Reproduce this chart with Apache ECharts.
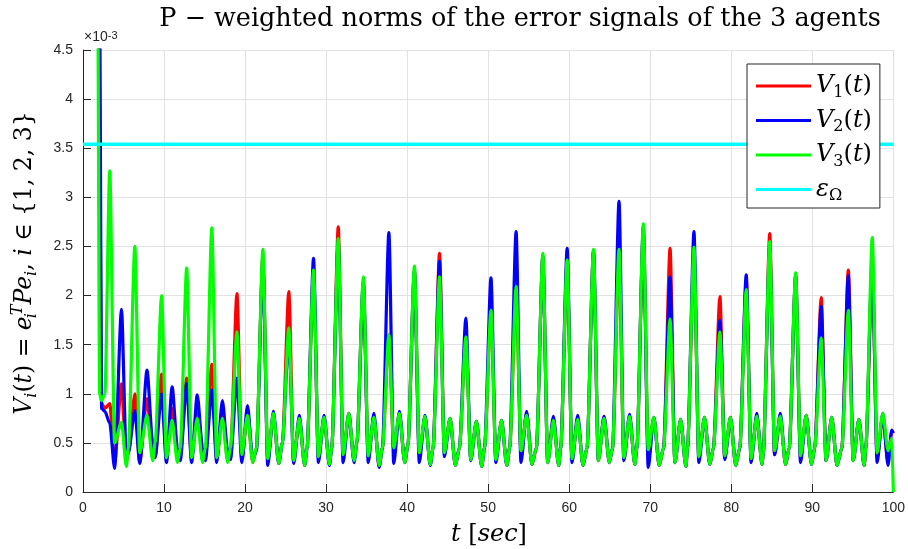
<!DOCTYPE html>
<html><head><meta charset="utf-8">
<script src="https://cdn.jsdelivr.net/npm/echarts@6/dist/echarts.min.js"></script>
<style>html,body{margin:0;padding:0;background:#fff}#c{width:908px;height:549px}</style>
</head><body><div id="c"></div>
<script>
// time stamps (sec)
const timeSec = [0, 1.8, 2.05, 2.3, 2.7,
3.3, 3.9, 4.75, 5.35, 5.6,
6.4, 7.0, 7.9, 8.6, 8.9,
9.7, 10.3, 11.0, 11.65, 12.0,
12.8, 13.4, 14.1, 14.75, 15.1,
15.9, 16.5, 17.2, 17.85, 18.2,
19.0, 19.6, 20.3, 20.95, 21.4,
22.2, 22.8, 23.5, 24.15, 24.6,
25.4, 26.0, 26.7, 27.35, 27.65,
28.45, 29.05, 29.75, 30.4, 30.7,
31.5, 32.1, 32.8, 33.45, 33.8,
34.6, 35.2, 35.9, 36.55, 36.95,
37.75, 38.35, 39.05, 39.7, 40.1,
40.9, 41.5, 42.2, 42.85, 43.2,
44.0, 44.6, 45.3, 45.95, 46.45,
47.25, 47.85, 48.55, 49.2, 49.55,
50.35, 50.95, 51.65, 52.3, 52.65,
53.45, 54.05, 54.75, 55.4, 55.95,
56.75, 57.35, 58.05, 58.7, 58.95,
59.75, 60.35, 61.05, 61.7, 62.2,
63.0, 63.6, 64.3, 64.95, 65.35,
66.15, 66.75, 67.45, 68.1, 68.35,
69.15, 69.75, 70.45, 71.1, 71.65,
72.45, 73.05, 73.75, 74.4, 74.6,
75.4, 76.0, 76.7, 77.35, 77.8,
78.6, 79.2, 79.9, 80.55, 81.05,
81.85, 82.45, 83.15, 83.8, 83.95,
84.75, 85.35, 86.05, 86.7, 87.15,
87.95, 88.55, 89.25, 89.9, 90.3,
91.1, 91.7, 92.4, 93.05, 93.65,
94.45, 95.05, 95.75, 96.4, 96.6,
97.4, 98.0, 98.7, 99.35, 99.8, 100];

// V1 (red), x 1e-3
const v1 = [30, 8, 3.5, 0.9, 0.85,
0.9, 0.3, 1.1, 0.3, 0.4,
1.0, 0.3, 0.95, 0.4, 0.35,
1.2, 0.33, 0.85, 0.35, 0.38,
1.16, 0.33, 0.85, 0.33, 0.4,
1.3, 0.33, 0.8, 0.33, 0.4,
2.02, 0.33, 0.8, 0.3, 0.45,
2.4, 0.33, 0.78, 0.29, 0.5,
2.04, 0.3, 0.75, 0.27, 0.45,
2.25, 0.35, 0.76, 0.28, 0.45,
2.7, 0.38, 0.8, 0.32, 0.5,
2.12, 0.36, 0.76, 0.26, 0.45,
1.6, 0.43, 0.8, 0.3, 0.48,
2.25, 0.38, 0.77, 0.28, 0.45,
2.43, 0.4, 0.75, 0.27, 0.45,
1.62, 0.33, 0.72, 0.26, 0.45,
1.85, 0.33, 0.73, 0.27, 0.45,
2.05, 0.4, 0.8, 0.28, 0.45,
2.4, 0.3, 0.75, 0.27, 0.45,
2.35, 0.33, 0.75, 0.27, 0.45,
2.45, 0.32, 0.77, 0.3, 0.45,
2.4, 0.33, 0.77, 0.28, 0.45,
2.65, 0.4, 0.76, 0.27, 0.45,
2.48, 0.3, 0.74, 0.26, 0.45,
2.45, 0.35, 0.76, 0.28, 0.45,
1.99, 0.35, 0.76, 0.27, 0.45,
2.16, 0.33, 0.77, 0.28, 0.4,
2.63, 0.38, 0.77, 0.28, 0.45,
2.2, 0.35, 0.78, 0.28, 0.45,
1.98, 0.32, 0.76, 0.27, 0.45,
2.26, 0.32, 0.74, 0.27, 0.45,
2.3, 0.35, 0.78, 0.3, 0.62, 0.6];

// V2 (blue), x 1e-3
const v2 = [30, 9, 5.0, 0.85, 0.82,
0.7, 0.24, 1.86, 0.35, 0.4,
0.83, 0.29, 1.24, 0.5, 0.35,
1.0, 0.3, 1.07, 0.45, 0.32,
1.1, 0.3, 0.99, 0.45, 0.32,
1.04, 0.3, 0.93, 0.42, 0.33,
1.16, 0.3, 0.88, 0.33, 0.42,
2.35, 0.27, 0.82, 0.29, 0.5,
1.6, 0.29, 0.78, 0.27, 0.45,
2.38, 0.3, 0.78, 0.27, 0.45,
2.55, 0.3, 0.8, 0.3, 0.5,
2.15, 0.3, 0.8, 0.25, 0.45,
2.64, 0.29, 0.82, 0.3, 0.48,
2.25, 0.3, 0.78, 0.27, 0.45,
2.35, 0.36, 0.75, 0.27, 0.45,
1.77, 0.32, 0.72, 0.26, 0.45,
2.18, 0.3, 0.73, 0.27, 0.45,
2.65, 0.3, 0.82, 0.28, 0.45,
2.4, 0.3, 0.77, 0.27, 0.45,
2.48, 0.3, 0.78, 0.27, 0.45,
2.45, 0.32, 0.77, 0.3, 0.45,
2.96, 0.32, 0.79, 0.28, 0.45,
2.7, 0.25, 0.76, 0.27, 0.45,
2.19, 0.3, 0.74, 0.26, 0.45,
2.65, 0.3, 0.76, 0.28, 0.45,
1.75, 0.33, 0.76, 0.27, 0.45,
2.21, 0.3, 0.8, 0.28, 0.4,
2.5, 0.38, 0.8, 0.28, 0.45,
2.2, 0.3, 0.78, 0.28, 0.45,
1.89, 0.32, 0.76, 0.27, 0.45,
2.2, 0.32, 0.74, 0.27, 0.45,
2.36, 0.3, 0.8, 0.27, 0.63, 0.6];

// V3 (green), x 1e-3
const v3 = [30, 5.5, 1.0, 0.93, 1.0,
3.27, 0.5, 0.71, 0.26, 0.45,
2.5, 0.4, 0.78, 0.32, 0.5,
2.0, 0.35, 0.73, 0.3, 0.45,
2.28, 0.35, 0.75, 0.3, 0.45,
2.69, 0.35, 0.75, 0.3, 0.45,
1.63, 0.38, 0.78, 0.3, 0.45,
2.47, 0.34, 0.8, 0.29, 0.5,
1.67, 0.32, 0.75, 0.27, 0.45,
2.26, 0.36, 0.76, 0.28, 0.45,
2.58, 0.38, 0.8, 0.32, 0.5,
2.19, 0.37, 0.76, 0.27, 0.45,
1.6, 0.45, 0.8, 0.3, 0.48,
2.3, 0.4, 0.77, 0.28, 0.45,
2.19, 0.4, 0.75, 0.27, 0.45,
1.58, 0.33, 0.72, 0.26, 0.45,
1.85, 0.33, 0.73, 0.27, 0.45,
2.09, 0.42, 0.78, 0.28, 0.45,
2.43, 0.3, 0.73, 0.27, 0.45,
2.36, 0.34, 0.74, 0.27, 0.45,
2.47, 0.32, 0.75, 0.3, 0.45,
2.47, 0.35, 0.77, 0.28, 0.45,
2.73, 0.43, 0.76, 0.27, 0.45,
1.76, 0.3, 0.74, 0.26, 0.45,
2.49, 0.36, 0.76, 0.28, 0.45,
1.63, 0.37, 0.76, 0.27, 0.45,
2.06, 0.34, 0.77, 0.28, 0.4,
2.55, 0.42, 0.77, 0.28, 0.45,
2.23, 0.37, 0.78, 0.28, 0.45,
1.57, 0.32, 0.76, 0.27, 0.45,
1.85, 0.32, 0.74, 0.27, 0.45,
2.59, 0.4, 0.8, 0.42, 0.55, 0];

const epsOmega = 3.54;         // threshold level, x 1e-3
const epsSpan = [0, 100];      // threshold drawn over whole time range

const seriesNames = ['V1', 'V2', 'V3', 'eps'];
const seriesColors = ['#ff0000', '#0000ff', '#00ff00', '#00ffff'];

const chart = echarts.init(document.getElementById('c'), null, {renderer: 'canvas'});
const serif = 'DejaVu Serif';
const axisColor = '#262626';

const pairs = arr => timeSec.map((t, i) => [t, arr[i]]);

const legendLabels = {
  V1: '{it|V}{sub|1}{rm|(}{it|t}{rm|)}',
  V2: '{it|V}{sub|2}{rm|(}{it|t}{rm|)}',
  V3: '{it|V}{sub|3}{rm|(}{it|t}{rm|)}',
  eps: '{it|ε}{sub|Ω}'
};

const lineSeries = (name, data, color, width, smooth) => ({
  name, type: 'line', data, showSymbol: false, symbol: 'none',
  smooth: smooth, smoothMonotone: 'x',
  lineStyle: {color, width}, itemStyle: {color},
  animation: false, clip: true
});

chart.setOption({
  animation: false,
  grid: {left: 83, right: 11, top: 50, bottom: 57, containLabel: false},
  xAxis: {
    type: 'value', min: 0, max: 100, interval: 10,
    axisLine: {show: true, onZero: false, lineStyle: {color: axisColor, width: 1}},
    axisTick: {show: true, inside: true, length: 8, lineStyle: {color: axisColor}},
    axisLabel: {color: axisColor, fontFamily: 'Liberation Sans', fontSize: 14, margin: 9},
    splitLine: {show: true, lineStyle: {color: '#e2e2e2', width: 1}}
  },
  yAxis: {
    type: 'value', min: 0, max: 4.5, interval: 0.5,
    axisLine: {show: true, onZero: false, lineStyle: {color: axisColor, width: 1}},
    axisTick: {show: true, inside: true, length: 8, lineStyle: {color: axisColor}},
    axisLabel: {color: axisColor, fontFamily: 'Liberation Sans', fontSize: 14, margin: 10},
    splitLine: {show: true, lineStyle: {color: '#e2e2e2', width: 1}}
  },
  legend: {
    orient: 'vertical', left: 747, top: 64,
    data: seriesNames,
    icon: 'rect', itemWidth: 55, itemHeight: 3, itemGap: 8,
    padding: [10, 8, 4, 9],
    borderColor: '#262626', borderWidth: 1, backgroundColor: '#ffffff',
    formatter: name => legendLabels[name],
    textStyle: {
      fontFamily: serif, fontSize: 24, color: '#000',
      rich: {
        it: {fontFamily: serif, fontStyle: 'italic', fontSize: 24, lineHeight: 29, color: '#000'},
        rm: {fontFamily: serif, fontSize: 24, lineHeight: 29, color: '#000'},
        sub: {fontFamily: serif, fontSize: 16, lineHeight: 13, verticalAlign: 'bottom', color: '#000'}
      }
    }
  },
  graphic: [
    {type: 'text', x: 520, y: 19, silent: true,
     style: {text: 'P − weighted norms of the error signals of the 3 agents',
             fontFamily: serif, fontSize: 25.5, fill: '#000', align: 'center', verticalAlign: 'middle'}},
    {type: 'text', x: 84, y: 37, silent: true,
     style: {text: '×10{sup|-3}', fontFamily: 'Liberation Sans', fontSize: 14, fill: axisColor,
             align: 'left', verticalAlign: 'middle',
             rich: {sup: {fontFamily: 'Liberation Sans', fontSize: 11, lineHeight: 9, verticalAlign: 'top', fill: axisColor}}}},
    {type: 'text', x: 489, y: 535, silent: true,
     style: {text: '{it|t} {rm|[}{it|sec}{rm|]}', fontFamily: serif, fontSize: 24, fill: '#000',
             align: 'center', verticalAlign: 'middle',
             rich: {
               it: {fontFamily: serif, fontStyle: 'italic', fontSize: 24, fill: '#000'},
               rm: {fontFamily: serif, fontSize: 24, fill: '#000'}
             }}},
    {type: 'text', x: 25, y: 263, rotation: Math.PI / 2, silent: true,
     style: {text: '{it|V}{sub|i}{rm|(}{it|t}{rm|) = }{it|e}{subz|i}{sup|T}{it|Pe}{sub|i}{rm|, }{it|i}{rm| ∈ {1, 2, 3}}',
             fontFamily: serif, fontSize: 23.5, fill: '#000', align: 'center', verticalAlign: 'middle',
             rich: {
               it: {fontFamily: serif, fontStyle: 'italic', fontSize: 23.5, lineHeight: 30, fill: '#000'},
               rm: {fontFamily: serif, fontSize: 23.5, lineHeight: 30, fill: '#000'},
               sub: {fontFamily: serif, fontStyle: 'italic', fontSize: 16, lineHeight: 14, verticalAlign: 'bottom', fill: '#000'},
               subz: {fontFamily: serif, fontStyle: 'italic', fontSize: 16, lineHeight: 14, width: 1, verticalAlign: 'bottom', fill: '#000'},
               sup: {fontFamily: serif, fontStyle: 'italic', fontSize: 16, lineHeight: 14, verticalAlign: 'top', fill: '#000'}
             }}}
  ],
  series: [
    lineSeries('V1', pairs(v1), seriesColors[0], 3.2, 0.25),
    lineSeries('V2', pairs(v2), seriesColors[1], 3.2, 0.25),
    lineSeries('V3', pairs(v3), seriesColors[2], 3.2, 0.25),
    lineSeries('eps', epsSpan.map(t => [t, epsOmega]), seriesColors[3], 3.5, false)
  ]
});
</script>
</body></html>
